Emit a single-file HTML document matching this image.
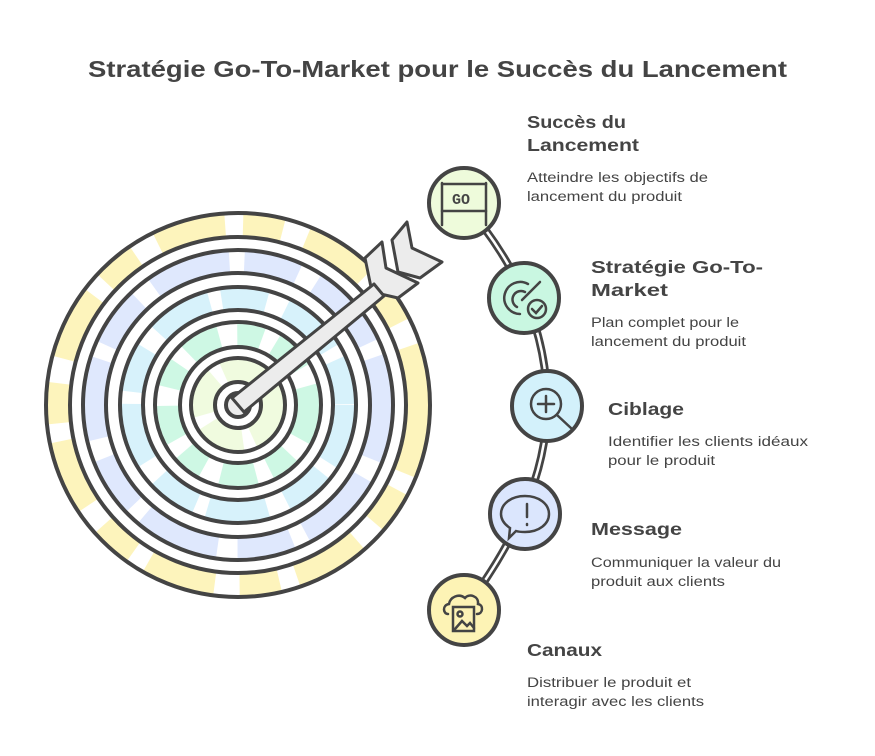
<!DOCTYPE html>
<html><head><meta charset="utf-8"><style>
html,body{margin:0;padding:0;background:#fff;width:875px;height:756px;overflow:hidden}
svg{display:block}
text{font-family:"Liberation Sans",sans-serif;fill:#444}
.t{font-weight:bold;font-size:17.5px}
.d{font-size:13.5px}
</style></head><body>
<svg width="875" height="756" viewBox="0 0 875 756" xmlns="http://www.w3.org/2000/svg">
<text x="88" y="77" font-size="23" font-weight="bold" textLength="699" lengthAdjust="spacingAndGlyphs">Stratégie Go-To-Market pour le Succès du Lancement</text>

<g fill="none">
<circle cx="238" cy="405" r="180" stroke="#fdf3b5" stroke-width="22" stroke-dasharray="70 18 40 25" opacity="0.9"/>
<circle cx="238" cy="405" r="143" stroke="#dbe6fd" stroke-width="22" stroke-dasharray="55 20 80 15" opacity="0.9"/>
<circle cx="238" cy="405" r="106" stroke="#d3f1fb" stroke-width="22" stroke-dasharray="60 12 45 20" opacity="0.9"/>
<circle cx="238" cy="405" r="70" stroke="#c9f7e1" stroke-width="22" stroke-dasharray="35 18 25 14" opacity="0.9"/>
<circle cx="238" cy="405" r="35" stroke="#eefbdb" stroke-width="22" stroke-dasharray="40 10" opacity="0.9"/>
<g stroke="#444" stroke-width="4">
<circle cx="238" cy="405" r="192"/>
<circle cx="238" cy="405" r="168"/>
<circle cx="238" cy="405" r="155"/>
<circle cx="238" cy="405" r="132"/>
<circle cx="238" cy="405" r="118"/>
<circle cx="238" cy="405" r="95"/>
<circle cx="238" cy="405" r="83"/>
<circle cx="238" cy="405" r="58"/>
<circle cx="238" cy="405" r="47"/>
<circle cx="238" cy="405" r="23"/>
</g>
<circle cx="238" cy="405" r="12" fill="#ececec" stroke="#444" stroke-width="4"/>
</g>
<g stroke="#444" stroke-width="3" fill="#ececec" stroke-linejoin="round">
<polygon points="365,258 382,242 386,268 418,283 398,298 372,292"/>
<polygon points="392,240 407,222 412,248 442,262 420,278 398,272"/>
<polygon points="232,398 374,284 384,296 244,412"/>
</g>

<path d="M464,203 Q548,300 547,406 Q547,500 464,610" fill="none" stroke="#444" stroke-width="8"/>
<path d="M464,203 Q548,300 547,406 Q547,500 464,610" fill="none" stroke="#fff" stroke-width="2.5"/>

<g stroke="#444" stroke-width="4">
<circle cx="464" cy="203" r="35" fill="#eefbdb"/>
<circle cx="524" cy="298" r="35" fill="#c9f7e1"/>
<circle cx="547" cy="406" r="35" fill="#d3f1fb"/>
<circle cx="525" cy="514" r="35" fill="#dbe6fd"/>
<circle cx="464" cy="610" r="35" fill="#fdf3b5"/>
</g>
<g stroke="#444" stroke-width="2.5" fill="none" stroke-linecap="round">
<line x1="442" y1="183" x2="442" y2="225"/><line x1="486" y1="183" x2="486" y2="225"/>
<line x1="442" y1="184" x2="486" y2="184"/><line x1="442" y1="211" x2="486" y2="211"/>
<path d="M528,284 A16,16 0 1 0 520,314"/><path d="M525,292 A8,8 0 1 0 517,307"/>
<line x1="522" y1="300" x2="540" y2="282"/><circle cx="537" cy="309" r="9"/>
<path d="M532,309 l4,4 l6,-7"/>
<circle cx="546" cy="404" r="15"/><line x1="546" y1="396" x2="546" y2="412"/><line x1="538" y1="404" x2="554" y2="404"/>
<line x1="557" y1="415" x2="572" y2="429"/>
<path d="M525,496 c14,0 24,8 24,18 c0,10 -10,18 -24,18 c-3,0 -6,0 -9,-1 l-7,7 l1,-10 c-6,-4 -9,-9 -9,-14 c0,-10 10,-18 24,-18z"/>
<line x1="527" y1="504" x2="527" y2="517"/><line x1="527" y1="524" x2="527" y2="525"/>
<path d="M448,614 c-5,0 -6,-9 1,-10 c1,-7 10,-11 16,-6 c4,-5 14,-2 13,6 c6,1 5,10 -1,10"/>
<rect x="453" y="607" width="21" height="24"/><circle cx="460" cy="614" r="2.5"/><path d="M455,629 l7,-8 l5,5 l3,-3 l4,5"/>
</g>
<text x="452" y="204" font-size="15" font-weight="bold" style="font-family:'Liberation Mono',monospace">GO</text>

<text class="t" x="527" y="128" textLength="99" lengthAdjust="spacingAndGlyphs">Succès du</text>
<text class="t" x="527" y="151" textLength="112" lengthAdjust="spacingAndGlyphs">Lancement</text>
<text class="d" x="527" y="182" textLength="181" lengthAdjust="spacingAndGlyphs">Atteindre les objectifs de</text>
<text class="d" x="527" y="201" textLength="155" lengthAdjust="spacingAndGlyphs">lancement du produit</text>

<text class="t" x="591" y="273" textLength="172" lengthAdjust="spacingAndGlyphs">Stratégie Go-To-</text>
<text class="t" x="591" y="296" textLength="77" lengthAdjust="spacingAndGlyphs">Market</text>
<text class="d" x="591" y="327" textLength="148" lengthAdjust="spacingAndGlyphs">Plan complet pour le</text>
<text class="d" x="591" y="346" textLength="155" lengthAdjust="spacingAndGlyphs">lancement du produit</text>

<text class="t" x="608" y="415" textLength="76" lengthAdjust="spacingAndGlyphs">Ciblage</text>
<text class="d" x="608" y="446" textLength="200" lengthAdjust="spacingAndGlyphs">Identifier les clients idéaux</text>
<text class="d" x="608" y="465" textLength="107" lengthAdjust="spacingAndGlyphs">pour le produit</text>

<text class="t" x="591" y="535" textLength="91" lengthAdjust="spacingAndGlyphs">Message</text>
<text class="d" x="591" y="567" textLength="190" lengthAdjust="spacingAndGlyphs">Communiquer la valeur du</text>
<text class="d" x="591" y="586" textLength="134" lengthAdjust="spacingAndGlyphs">produit aux clients</text>

<text class="t" x="527" y="656" textLength="75" lengthAdjust="spacingAndGlyphs">Canaux</text>
<text class="d" x="527" y="687" textLength="164" lengthAdjust="spacingAndGlyphs">Distribuer le produit et</text>
<text class="d" x="527" y="706" textLength="177" lengthAdjust="spacingAndGlyphs">interagir avec les clients</text>
</svg>
</body></html>
